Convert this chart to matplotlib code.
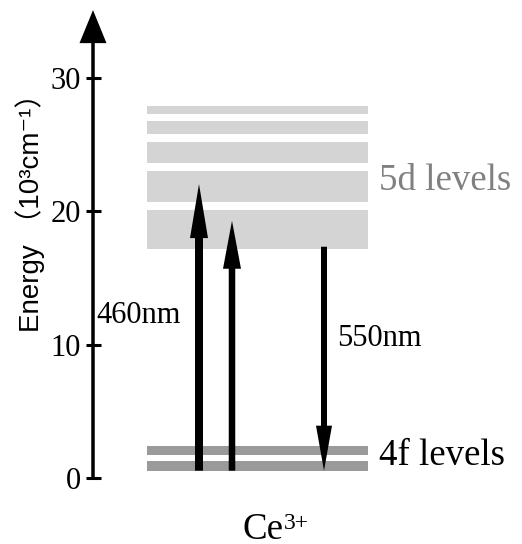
import matplotlib
matplotlib.use("Agg")
import matplotlib.pyplot as plt

# energias em 10^3 cm^-1
d5_lo = [17.2, 20.7, 23.6, 25.8, 27.3]
d5_hi = [20.1, 23.0, 25.2, 26.8, 27.9]
f4_lo = [0.55, 1.75]
f4_hi = [1.3, 2.4]
exc_from = [0.55, 0.55]
exc_to = [22.05, 19.3]
em_from = [17.35]
em_to = [0.55]
yticks = [0, 10, 20, 30]
ylabels = ["0", "10", "20", "30"]

PX = 13.33  # pixels por unidade de energia

fig = plt.figure(figsize=(5.22, 5.44), dpi=100)
ax = fig.add_axes([0, 0, 1, 1])
ax.set_xlim(0, 522)
ax.set_ylim(-4.95, 35.86)
ax.patch.set_visible(False)
for s in ["top", "right", "bottom"]:
    ax.spines[s].set_visible(False)
ax.spines["left"].set_position(("data", 93))
ax.spines["left"].set_color("none")
ax.set_xticks([])

# niveis 5d e 4f
ax.bar(147, [h - l for l, h in zip(d5_lo, d5_hi)], bottom=d5_lo, width=221,
       align="edge", color="#d4d4d4", lw=0)
ax.bar(147, [h - l for l, h in zip(f4_lo, f4_hi)], bottom=f4_lo, width=221,
       align="edge", color="#9a9a9a", lw=0)

# eixo de energia com seta
ax.arrow(93, -0.15, 0, 35.25, width=3.5, head_width=27, head_length=33 / PX,
         length_includes_head=True, color="k", lw=0, zorder=3)
ax.set_yticks(yticks)
ax.set_yticklabels(ylabels, fontfamily="Liberation Serif", fontsize=22)
ax.tick_params(axis="y", direction="inout", length=10.8, width=2.2, pad=3.5)

# excitacoes
exc_x = [199, 232]
exc_w = [8, 6.5]
exc_hl = [54, 48]
for x, y0, y1, w, hl in zip(exc_x, exc_from, exc_to, exc_w, exc_hl):
    ax.arrow(x, y0, 0, y1 - y0, width=w, head_width=18, head_length=hl / PX,
             length_includes_head=True, color="k", lw=0, zorder=4)
# emissao
for y0, y1 in zip(em_from, em_to):
    ax.arrow(324, y0, 0, y1 - y0, width=6, head_width=16, head_length=45 / PX,
             length_includes_head=True, color="k", lw=0, zorder=4)

serif = "Liberation Serif"
ax.text(96, 11.63, "460nm", fontfamily=serif, fontsize=22, va="baseline")
ax.text(337, 9.9, "550nm", fontfamily=serif, fontsize=22, va="baseline")
ax.text(379, 21.6, "5d levels", fontfamily=serif, fontsize=26.6, color="#808080",
        va="baseline")
ax.text(379, 0.98, "4f levels", fontfamily=serif, fontsize=26.6, va="baseline")
ax.text(242, -4.55, "Ce", fontfamily=serif, fontsize=26.6, va="baseline")
ax.text(284, -3.8, "3+", fontfamily=serif, fontsize=17, va="baseline")

ax.text(30, 20.4, "Energy （10³cm⁻¹）", rotation=90,
        ha="center", va="center", fontsize=20,
        fontfamily=["Liberation Sans", "Noto Sans CJK SC", "DejaVu Sans"])

fig.savefig("out.png", dpi=100)
